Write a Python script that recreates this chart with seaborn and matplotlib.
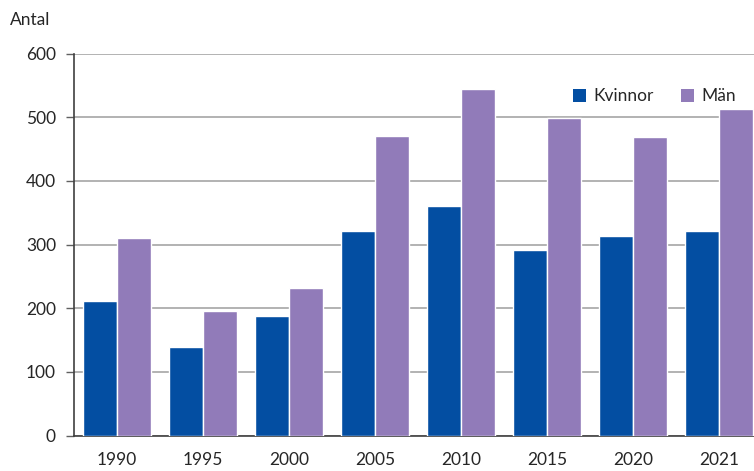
import matplotlib
matplotlib.use("Agg")
import matplotlib.pyplot as plt
import seaborn as sns
import pandas as pd

years = ["1990", "1995", "2000", "2005", "2010", "2015", "2020", "2021"]
kvinnor = [211, 139, 188, 321, 360, 292, 314, 321]
man = [310, 196, 232, 470, 544, 498, 469, 513]
series_names = ["Kvinnor", "Män"]
colors = ["#034EA2", "#917BB9"]
yticks = [0, 100, 200, 300, 400, 500, 600]

df = pd.DataFrame({
    "År": years * 2,
    "Antal": kvinnor + man,
    "Kön": [series_names[0]] * len(years) + [series_names[1]] * len(years),
})

sns.set_style("white")
plt.rcParams["font.family"] = ["Lato", "DejaVu Sans"]

fig = plt.figure(figsize=(7.54, 4.71), dpi=100)
W, H = 754, 471
left, right, top, bottom = 74, 762, 53.5, 435.7
ax = fig.add_axes([left / W, 1 - bottom / H, (right - left) / W, (bottom - top) / H])

sns.barplot(data=df, x="År", y="Antal", hue="Kön", palette=colors, ax=ax,
            width=0.8, edgecolor="white", linewidth=1.0, saturation=1, zorder=3)

fs = 12.5
ax.set_xlim(-0.5, len(years) - 0.5)
ax.set_ylim(0, 600)
ax.set_yticks(yticks)
ax.set_yticklabels([str(t) for t in yticks], fontsize=fs)
ax.tick_params(axis="x", labelsize=fs, length=0, pad=12)
ax.tick_params(axis="y", length=6, width=1, color="#606060", pad=7, left=True)
ax.yaxis.grid(True, color="#A6A6A6", linewidth=1.2, zorder=0)
ax.set_axisbelow(True)
ax.set_xlabel("")
ax.set_ylabel("")
for s in ["top", "right"]:
    ax.spines[s].set_visible(False)
ax.spines["left"].set_color("#404040")
ax.spines["bottom"].set_color("#404040")
ax.spines["left"].set_linewidth(1.2)
ax.spines["bottom"].set_linewidth(1.2)

leg = ax.legend(loc="upper right", bbox_to_anchor=(0.985, 0.95), ncol=2, frameon=False,
                fontsize=fs, handlelength=0.75, handleheight=0.75, handletextpad=0.4,
                columnspacing=1.6)
for h in leg.legend_handles:
    h.set_edgecolor("none")

fig.text(10 / W, 1 - 20 / H, "Antal", fontsize=fs, va="center", ha="left")

fig.savefig("out.png", dpi=100)
